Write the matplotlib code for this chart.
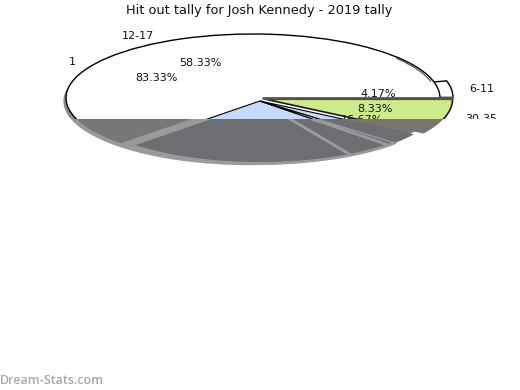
import matplotlib
matplotlib.use("Agg")
import matplotlib.pyplot as plt
import numpy as np
from matplotlib.patches import Rectangle, Arc

W, H = 520, 390
title = "Hit out tally for Josh Kennedy - 2019 tally"
slice_names = ["6-11", "12-17", "1", "18-23", "24-29", "30-35", "36+"]
slice_shares = [4.17, 58.33, 20.83, 4.17, 0.90, 2.60, 9.00]
slice_colors = ["#ffffff", "#ffffff", "#c4d9fc", "#c4d9fc", "#ffffff", "#c4d9fc", "#cdea8c"]
shade_colors = ["#777876", "#777876", "#6c6e72", "#6c6e72", "#6c6e72", "#6c6e72", "#75776f"]
slice_explode = [0.07, 0, 0, 0, 0, 0, 0.07]
pct_labels = ["83.33%", "58.33%", "4.17%", "8.33%", "16.67%"]
name_labels = ["1", "12-17", "6-11", "30-35"]
pct_xy = [(156, 78), (200, 63), (378, 94), (375, 109), (362, 120)]
name_xy = [(72, 62), (138, 36), (482, 89), (481, 119)]

fig = plt.figure(figsize=(W / 100, H / 100), dpi=100, facecolor="white")


def fx(x):
    return x / W


def fy(y):
    return 1 - y / H


# Squashed unit pie: centre (253,98), radii 187 x 64 pixels
ax = fig.add_axes([fx(66), fy(162), 374 / W, 128 / H])
CUT = (98 - 119) / 64
RIM = (-0.014, -0.05)
SHIFT = (0.037, -0.047)
RIM_COLOR = "#999a9c"
edges = np.cumsum(slice_shares) * 3.6


def draw(shares, colors, explode, edge, lw, z, center=(0, 0), radius=1, keep=None):
    w, _ = ax.pie(shares, colors=colors, explode=explode, startangle=0,
                  counterclock=True, radius=radius, center=center,
                  wedgeprops=dict(edgecolor=edge, linewidth=lw, zorder=z),
                  normalize=True)
    for i, p in enumerate(w):
        if keep is not None and i not in keep:
            p.set_visible(False)
    return w


N = len(slice_shares)
flat = [0] * N
white_total = sum(slice_shares[:2])
blue_total = slice_shares[2] + slice_shares[3]
merged = [white_total, blue_total, *slice_shares[4:]]
merged_colors = ["#ffffff", "#c4d9fc", "#ffffff", "#c4d9fc", "#cdea8c"]

# rim
draw([1], ["#8b8d90"], [0], "none", 0, 1, center=RIM)
# white disc under everything on top
draw([1], ["#ffffff"], [0], "none", 0, 1.5)
# exploded pieces under the main disc
draw(slice_shares, slice_colors, slice_explode, "black", 1.0, 2, keep=[0])
draw(slice_shares, slice_colors, slice_explode, "#1a1a1a", 1.2, 2.1, keep=[6])
# main white area without radial lines
draw(merged, merged_colors, [0] * 5, "none", 0, 2.5, keep=[0])
ax.add_patch(Arc((0, 0), 2, 2, theta1=0, theta2=edges[1], color="black", lw=1.0,
                 zorder=2.55, clip_on=False))
ax.add_patch(Arc((0, 0), 1.972, 1.972, theta1=edges[0], theta2=edges[0] + 24, color="#444444",
                 lw=0.8, zorder=2.55, clip_on=False))
# blue group on top
draw(merged, merged_colors, [0] * 5, "black", 0.8, 2.6, center=SHIFT, keep=[1, 3])
draw(merged, merged_colors, [0] * 5, "black", 0.8, 2.65, center=SHIFT, keep=[2])
# separator along the start of the first slice
ax.plot([0.05, 1.07], [0, 0], color="#555555", lw=2.0, zorder=2.7, clip_on=False,
        solid_capstyle="butt")

# labels, then white mask that cuts everything below the cut line
for s, (x, y) in zip(pct_labels + name_labels, pct_xy + name_xy):
    ax.text(fx(x), fy(y), s, transform=fig.transFigure, fontsize=8, color="#111111",
            ha="center", va="center", zorder=3, clip_on=False)
ax.add_patch(Rectangle((-2, -1.5), 4, 1.5 + CUT, facecolor="white", edgecolor="none",
                       zorder=3.5, clip_on=False))

# rim and grey lower portion over the mask, clipped to the lower part
low_clip = Rectangle((-2, -4), 4, 4 + CUT, transform=ax.transData)
lows = []
lows += draw([1], [RIM_COLOR], [0], "none", 0, 3.8, center=RIM)
lows += draw(slice_shares, shade_colors, flat, "none", 0, 3.85, keep=[5, 6])
lows += draw(slice_shares, shade_colors, slice_explode, "none", 0, 3.9, keep=[1])
lows += draw(slice_shares, shade_colors, flat, RIM_COLOR, 2.0, 4, center=SHIFT, radius=0.975,
             keep=[2, 3, 4])
lows += draw(slice_shares, shade_colors, flat, "none", 0, 4, center=SHIFT, radius=0.975,
             keep=[5])
lows += draw(slice_shares, shade_colors, slice_explode, "none", 0, 4.1, keep=[6])
for p in lows:
    p.set_clip_on(True)
    p.set_clip_path(low_clip)

ax.set_aspect("auto")
ax.set_xlim(-1, 1)
ax.set_ylim(-1, 1)
ax.set_axis_off()

fig.text(fx(259), fy(10.5), title, ha="center", va="center", fontsize=9.3, color="#111111")
fig.text(fx(0), fy(380), "Dream-Stats.com", ha="left", va="center", fontsize=9,
         color="#a8a8a8", family="Open Sans", fontweight="semibold")

fig.savefig("out.png", dpi=100)
